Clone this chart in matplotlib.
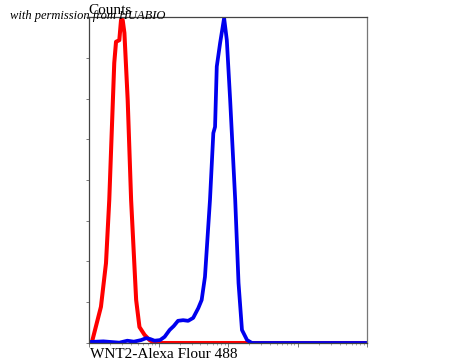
import matplotlib
matplotlib.use('Agg')
import matplotlib.pyplot as plt
from matplotlib.ticker import LogLocator, NullFormatter

# Isotype control (red) - fluorescence intensity vs relative counts
control_x = [1.0, 1.09, 1.48, 1.75, 1.95, 2.30, 2.44, 2.72, 2.88, 3.04, 3.22, 3.59,
             4.02, 4.75, 5.30, 6.27, 7.41, 8.75, 10000]
control_y = [0, 0, 11.1, 24.5, 43.9, 85.9, 92.4, 92.9, 99.1, 99.1, 95.1, 74.5,
             43.9, 13.2, 4.9, 2.5, 0.9, 0, 0]

# WNT2 stained sample (blue)
wnt2_x = [1.0, 1.6, 2.72, 3.55, 4.4, 5.61, 6.63, 7.6, 8.75, 10.5, 12.2, 14.4, 16.5,
          19.0, 22.5, 26.6, 31.4, 37.2, 41.6, 46.4, 54.8, 61.2, 64.8, 68.6, 76.6,
          87.5, 95.7, 106.9, 126.3, 141, 158, 187, 220, 10000]
wnt2_y = [0.3, 0.5, 0.1, 0.7, 0.4, 0.9, 1.5, 1.2, 0.7, 0.9, 1.9, 4.0, 5.2,
          6.8, 7.0, 6.8, 7.7, 10.7, 13.2, 20.3, 43.9, 64.4, 66.3, 84.8, 92.0,
          99.7, 92.9, 74.5, 43.9, 18.4, 4.0, 0.9, 0, 0]

fig = plt.figure(figsize=(4.5, 3.62), dpi=100)
ax = fig.add_axes([0.198, 0.0525, 0.618, 0.9005])

ax.plot(control_x, control_y, color='#ff0000', lw=2.9, solid_joinstyle='round')
ax.plot(wnt2_x, wnt2_y, color='#0000ee', lw=2.7, solid_joinstyle='round')

ax.set_xscale('log')
ax.set_xlim(1, 10000)
ax.set_ylim(0, 100)

# y ticks with no labels, small outward marks
ax.set_yticks([i * 12.5 for i in range(9)])
ax.set_yticklabels([])
ax.tick_params(axis='y', length=2, width=0.6, color='#666666')
ax.xaxis.set_major_locator(LogLocator(base=10, numticks=10))
ax.xaxis.set_minor_locator(LogLocator(base=10, subs=range(2, 10), numticks=10))
ax.xaxis.set_major_formatter(NullFormatter())
ax.xaxis.set_minor_formatter(NullFormatter())
ax.tick_params(axis='x', which='major', length=3, width=0.6, color='#666666')
ax.tick_params(axis='x', which='minor', length=1.5, width=0.5, color='#888888')

for side in ['left', 'top', 'right', 'bottom']:
    ax.spines[side].set_color('#444444')
    ax.spines[side].set_linewidth(0.9)
ax.spines['right'].set_color('#777777')

serif = ['Liberation Serif', 'DejaVu Serif']
fig.text(88 / 450, 1 - 14 / 362, 'Counts', family=serif, fontsize=11, ha='left', va='baseline')
fig.text(90 / 450, 1 - 358 / 362, 'WNT2-Alexa Flour 488', family=serif, fontsize=11,
         ha='left', va='baseline')
fig.text(10 / 450, 1 - 19 / 362, 'with permission from HUABIO', family=serif, style='italic',
         fontsize=9, ha='left', va='baseline')

fig.savefig('out.png', dpi=100)
